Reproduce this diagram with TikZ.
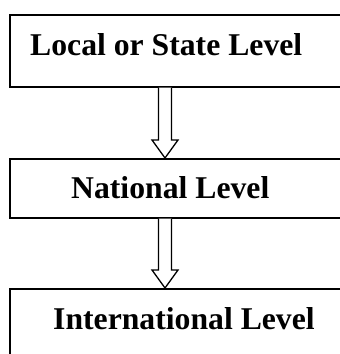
\documentclass[tikz,border=0pt]{standalone}
\usepackage{fontspec}
\setmainfont{Liberation Serif}
\usetikzlibrary{calc}
\tikzset{
  levelbox/.style={draw, line width=1.6pt, anchor=north west, minimum width=420pt, inner sep=0pt},
  leveltext/.style={anchor=base west, inner sep=0pt, font=\fontsize{31.7}{38}\selectfont\bfseries},
  arrowline/.style={line width=1.3pt, fill=white, line join=miter}
}
\newcommand{\hollowarrow}[2]{%
  \draw[arrowline] ($(#1)+(-6.5,0)$) -- ($(#2)+(-6.5,-18)$) -- ($(#2)+(-13,-18)$)
    -- (#2) -- ($(#2)+(13,-18)$) -- ($(#2)+(6.5,-18)$) -- ($(#1)+(6.5,0)$);}
\begin{document}
\begin{tikzpicture}[x=1pt,y=-1pt]
      \useasboundingbox (0,0) rectangle (340,354);
      \clip (0,0) rectangle (340,354);
      \coordinate (ax) at (165,0);
      %Boxes
      \node[levelbox, minimum height=72pt] (local) at (9,14) {};
      \node[levelbox, minimum height=59pt] (national) at (9,158) {};
      \node[levelbox, minimum height=90pt] (international) at (9,288) {};
      %Labels
      \node[leveltext] (localtext) at (30,55) {Local or State Level};
      \node[leveltext] (nationaltext) at (71,198) {National Level};
      \node[leveltext] (internationaltext) at (53,329) {International Level};
      %Arrows
      \coordinate (t1) at (local.south -| ax);
      \coordinate (h1) at (national.north -| ax);
      \coordinate (t2) at (national.south -| ax);
      \coordinate (h2) at (international.north -| ax);
      \hollowarrow{t1}{h1}
      \hollowarrow{t2}{h2}
  \end{tikzpicture}
\end{document}
